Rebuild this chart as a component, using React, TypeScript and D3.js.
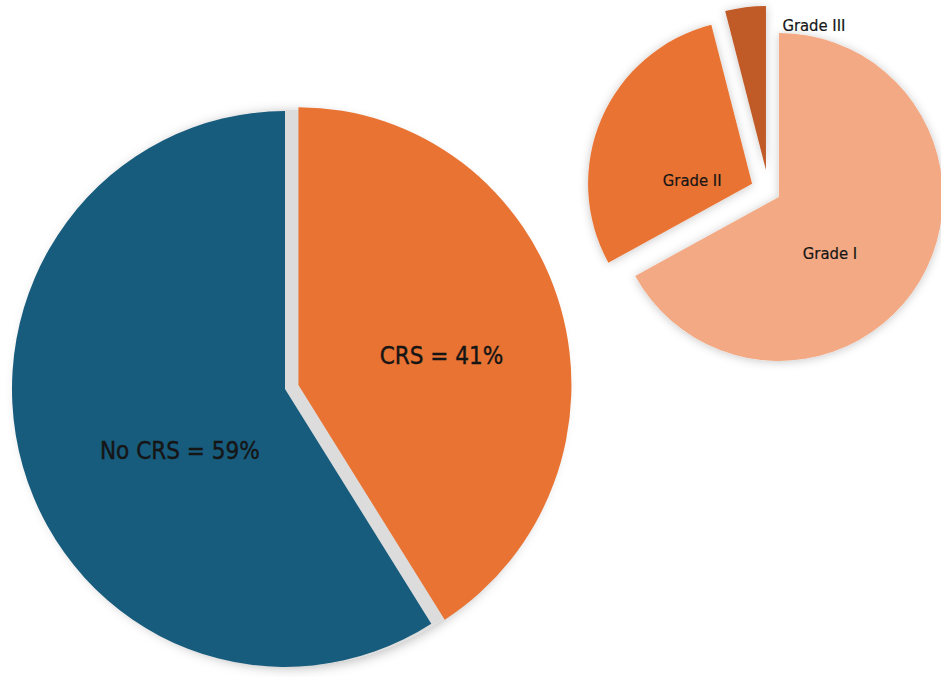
import React from "react";
import * as d3 from "d3";

const crsCategories = ["CRS", "No CRS"];
const crsValues = [41, 59];
const crsLabels = ["CRS = 41%", "No CRS = 59%"];

const gradeCategories = ["Grade I", "Grade II", "Grade III"];
const gradeValues = [67, 29, 4];

const W = 941;
const H = 677;

const crsColors = ["#E97333", "#175C7D"];
const gradeColors = ["#F2A984", "#E97333", "#C05A27"];

const FONT = "'DejaVu Sans Condensed', sans-serif";

function polar(angle: number, r: number): [number, number] {
  return [Math.sin(angle) * r, -Math.cos(angle) * r];
}

export default function App() {
  const rad = Math.PI / 180;

  // Big pie (CRS)
  const bigCx = 285;
  const bigCy = 389;
  const bigR = 273;
  const bigKy = 1.018;
  const bigExplode = [14, 0];
  const bigLabelPos = [
    { angle: 78.5, dist: 146 },
    { angle: 239.5, dist: 122 },
  ];
  const pieGen = d3.pie<number>().sort(null).value((d) => d);
  const bigArcs = pieGen(crsValues);
  const bigArc = d3.arc<d3.PieArcDatum<number>>().innerRadius(0).outerRadius(bigR);

  // Small pie (grades)
  const smCx = 768.6;
  const smCy = 190.8;
  const smR = 164;
  const smExplode = [12, 18, 21];
  const smLabelPos = [
    { angle: 137.8, dist: 76 },
    { angle: 272.9, dist: 60 },
    { angle: 18.4, dist: 152 },
  ];
  const smArcs = pieGen(gradeValues);
  const smArc = d3.arc<d3.PieArcDatum<number>>().innerRadius(0).outerRadius(smR);

  const bigVertex = bigArcs.map((a, i) => {
    const mid = (a.startAngle + a.endAngle) / 2;
    const [ox, oy] = polar(mid, bigExplode[i]);
    return [bigCx + ox, bigCy + oy];
  });
  const smVertex = smArcs.map((a, i) => {
    const mid = (a.startAngle + a.endAngle) / 2;
    const [ox, oy] = polar(mid, smExplode[i]);
    return [smCx + ox, smCy + oy];
  });

  return (
    <div style={{ position: "fixed", left: 0, top: 0 }}>
      <svg width={W} height={H} style={{ display: "block", background: "#ffffff" }}>
        <defs>
          <filter id="shadow" x="-20%" y="-20%" width="140%" height="140%">
            <feDropShadow dx="0" dy="2" stdDeviation="6" floodColor="#000" floodOpacity="0.28" />
          </filter>
          <filter id="shadowSm" x="-20%" y="-20%" width="140%" height="140%">
            <feDropShadow dx="0" dy="1" stdDeviation="5" floodColor="#000" floodOpacity="0.22" />
          </filter>
        </defs>

        {/* Big pie */}
        <g>
          <ellipse
            cx={bigCx + 6}
            cy={bigCy - 1}
            rx={bigR}
            ry={bigR * bigKy}
            fill="#DCDCDC"
            filter="url(#shadow)"
          />
          {bigArcs.map((a, i) => (
            <path
              key={crsCategories[i]}
              d={bigArc(a) || ""}
              transform={`translate(${bigVertex[i][0]},${bigVertex[i][1]}) scale(1,${bigKy})`}
              fill={crsColors[i]}
            />
          ))}
          {bigArcs.map((a, i) => {
            const [lx, ly] = polar(bigLabelPos[i].angle * rad, bigLabelPos[i].dist);
            return (
              <text
                key={"l" + i}
                x={bigVertex[i][0] + lx}
                y={bigVertex[i][1] + ly}
                textAnchor="middle"
                dominantBaseline="central"
                fontFamily={FONT}
                fontSize={24}
                fill="#151515"
                stroke="#151515"
                strokeWidth={0.4}
              >
                {crsLabels[i]}
              </text>
            );
          })}
        </g>

        {/* Small pie */}
        <g>
          {smArcs.map((a, i) => (
            <path
              key={gradeCategories[i]}
              d={smArc(a) || ""}
              transform={`translate(${smVertex[i][0]},${smVertex[i][1]})`}
              fill={gradeColors[i]}
              filter="url(#shadowSm)"
            />
          ))}
          {smArcs.map((a, i) => {
            const [lx, ly] = polar(smLabelPos[i].angle * rad, smLabelPos[i].dist);
            return (
              <text
                key={"s" + i}
                x={smVertex[i][0] + lx}
                y={smVertex[i][1] + ly}
                textAnchor="middle"
                dominantBaseline="central"
                fontFamily={FONT}
                fontSize={16.5}
                fill="#151515"
                stroke="#151515"
                strokeWidth={0.2}
              >
                {gradeCategories[i]}
              </text>
            );
          })}
        </g>
      </svg>
    </div>
  );
}
